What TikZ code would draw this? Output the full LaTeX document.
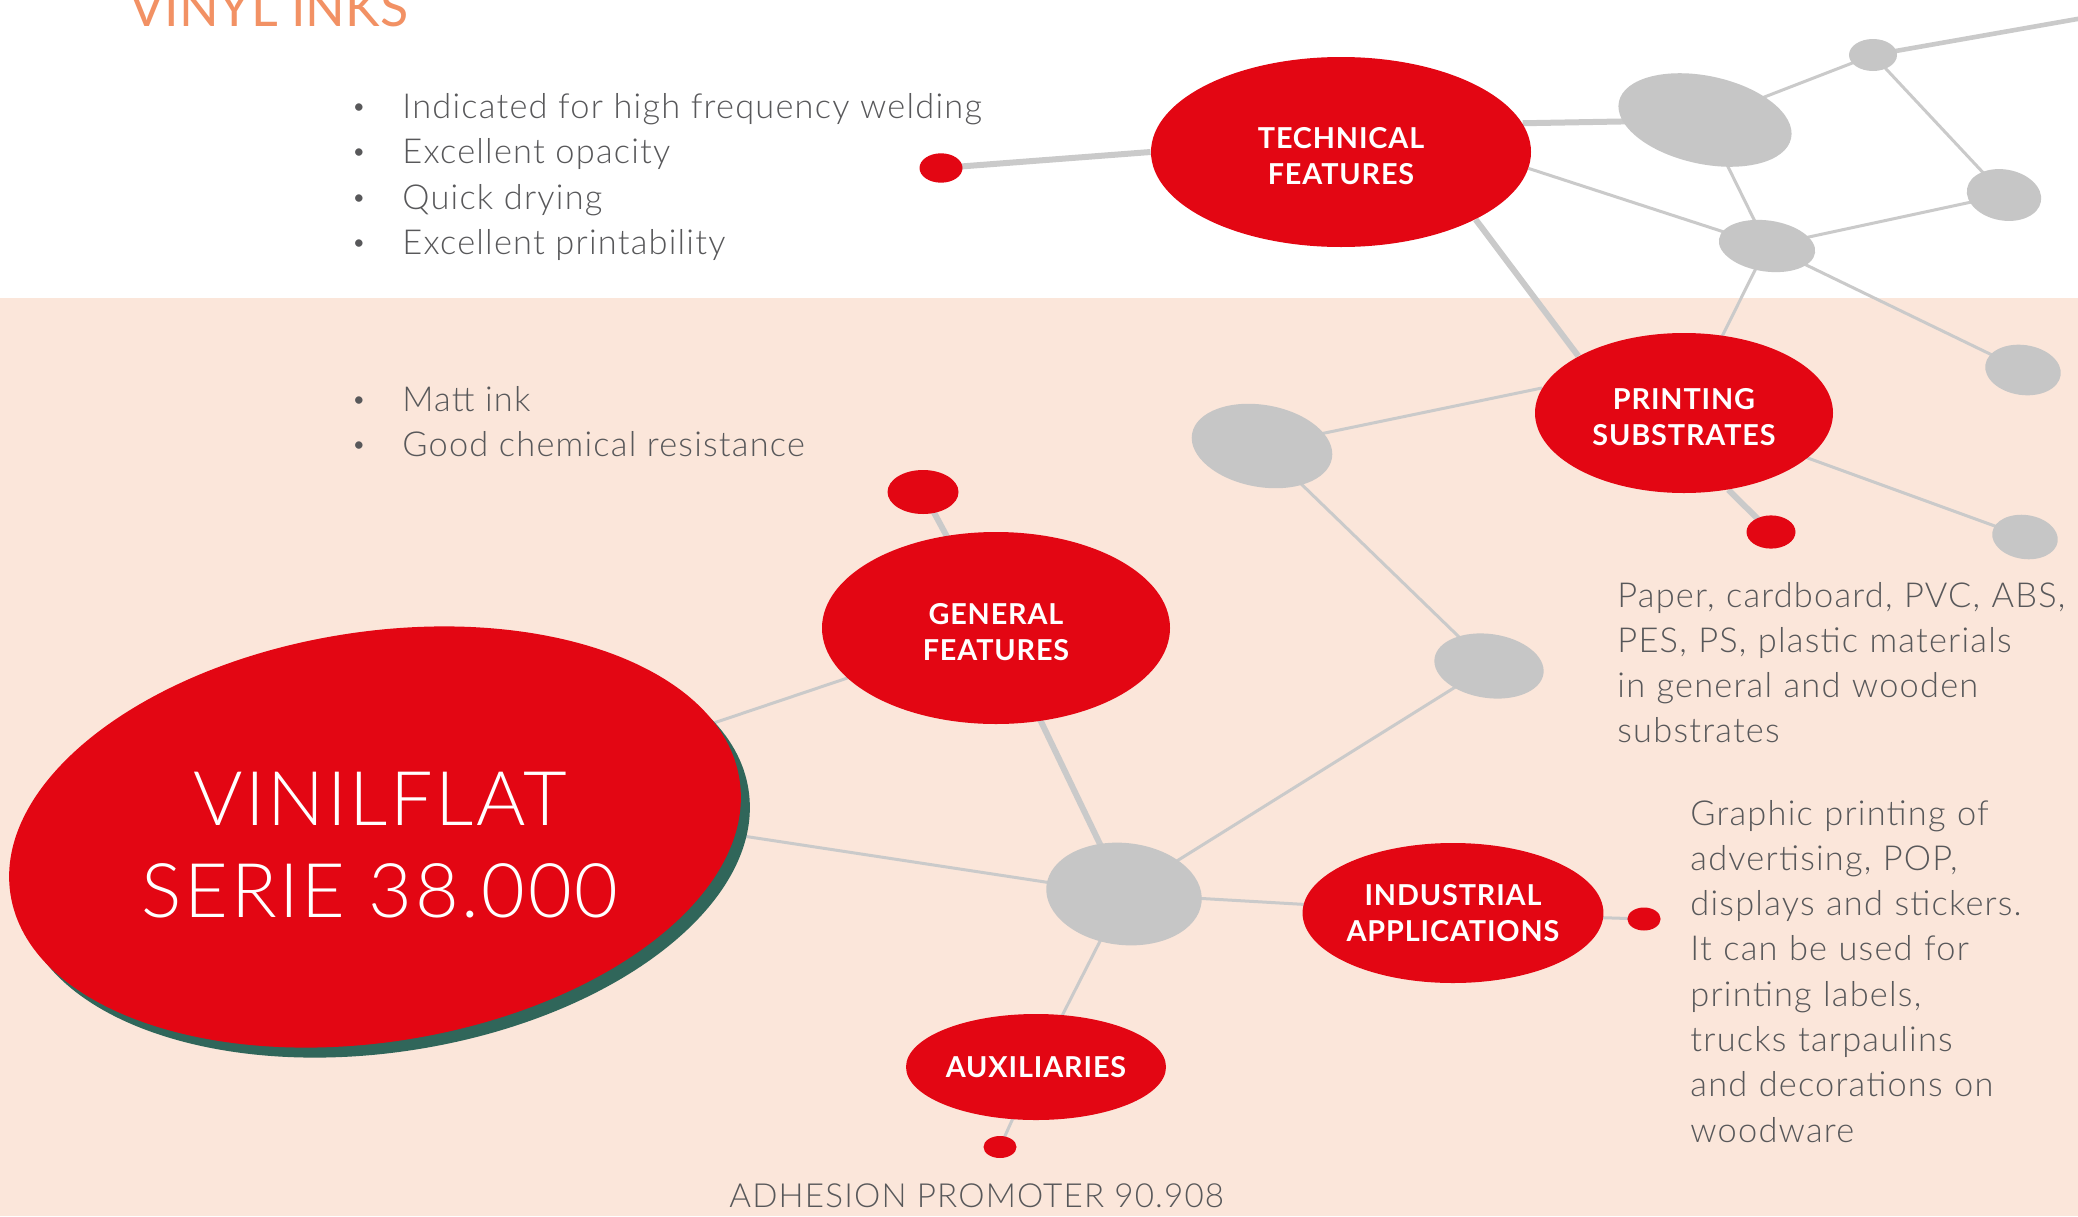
\documentclass[tikz,border=0pt]{standalone}
\usepackage{fontspec}
\setmainfont{Lato}
\newfontfamily\lightfont{Lato Light}[LetterSpace=3.5]
\newfontfamily\labelfont{Lato}[LetterSpace=3]
\usetikzlibrary{shapes.geometric, calc}

\definecolor{inkred}{RGB}{227,6,19}
\definecolor{blobgrey}{RGB}{198,198,198}
\definecolor{linkgrey}{RGB}{202,202,202}
\definecolor{peach}{RGB}{251,230,218}
\definecolor{copygrey}{RGB}{88,88,90}
\definecolor{titleorange}{RGB}{242,145,100}
\definecolor{shadowgreen}{RGB}{48,102,90}

\pgfdeclarelayer{paper}
\pgfdeclarelayer{links}
\pgfsetlayers{paper,links,main}

\newcommand{\lowstrut}{\rule{0pt}{15pt}}

\tikzset{
  axes/.style 2 args={minimum width=#1pt, minimum height=#2pt},
  bubble/.style={ellipse, fill=inkred, inner sep=0pt, text=white, align=center,
    font=\labelfont\bfseries\fontsize{14.4}{18}\selectfont},
  blob/.style={ellipse, fill=blobgrey, inner sep=0pt},
  redspot/.style={ellipse, fill=inkred, inner sep=0pt},
  link/.style={draw=linkgrey, line width=1.5pt},
  mid link/.style={draw=linkgrey, line width=2.3pt},
  heavy link/.style={draw=linkgrey, line width=3pt},
  bodytext/.style={text=copygrey, inner sep=0pt, anchor=base west,
    font=\lightfont\fontsize{17.2}{22.65}\selectfont},
  bulletmark/.style={text=copygrey, inner sep=0pt, anchor=base,
    font=\fontsize{10}{12}\selectfont},
}

\begin{document}
\begin{tikzpicture}[x=0.5pt, y=-0.5pt]
\useasboundingbox (0,0) rectangle (2078,1216);
\begin{pgfonlayer}{paper}
  \fill[white] (0,0) rectangle (2078,298);
  \fill[peach] (0,298) rectangle (2078,1216);
\end{pgfonlayer}

% heading
\node[anchor=base west, inner sep=0pt, text=titleorange,
  font=\fontsize{26}{30}\selectfont] (title) at (129,26) {VINYL INKS};

% bullet lists
\foreach \txt [count=\i] in {Indicated for high frequency welding, Excellent opacity, Quick drying, Excellent printability} {
  \node[bulletmark] (tdot\i) at (359, {113+45.5*(\i-1)}) {•};
  \node[bodytext] (tline\i) at (402, {118+45.5*(\i-1)}) {\txt};
}
\foreach \txt [count=\i] in {Matt ink, Good chemical resistance} {
  \node[bulletmark] (gdot\i) at (359, {406+45*(\i-1)}) {•};
  \node[bodytext] (gline\i) at (402, {411+45*(\i-1)}) {\txt};
}

% main product
\node[ellipse, fill=shadowgreen, inner sep=0pt, axes={369}{205}, rotate=9] (brandshadow) at (384,847) {};
\node[ellipse, fill=inkred, inner sep=0pt, axes={369}{205}, rotate=9] (brand) at (375,837) {};
\node[text=white, align=center, inner sep=0pt,
  font=\lightfont\fontsize{37.7}{46}\selectfont] (brandtext) at (380,845) {VINILFLAT\\SERIE 38.000};

% red bubbles
\node[bubble, axes={190}{95}] (tf) at (1341,152) {\lowstrut TECHNICAL\\FEATURES};
\node[bubble, axes={149}{80}] (ps) at (1684,413) {\lowstrut PRINTING\\SUBSTRATES};
\node[bubble, axes={174}{96}] (gf) at (996,628) {\lowstrut GENERAL\\FEATURES};
\node[bubble, axes={146}{70}] (ia) at (1453,913) {INDUSTRIAL\\APPLICATIONS};
\node[bubble, axes={130}{53}] (aux) at (1036,1067) {AUXILIARIES};

% small red ends
\node[redspot, axes={21.5}{14.7}] (tfpin) at (941,168) {};
\node[redspot, axes={35.5}{22}] (gfpin) at (923,492) {};
\node[redspot, axes={24.5}{16.6}] (pspin) at (1771,532) {};
\node[redspot, axes={16.6}{11.5}] (iapin) at (1644,919) {};
\node[redspot, axes={16.5}{11}] (auxpin) at (1000,1147) {};

% grey blobs
\node[blob, axes={88}{44}, rotate=-12] (g1) at (1705,120) {};
\node[blob, axes={24}{16}] (g2) at (1873,55) {};
\node[blob, axes={37.5}{25.5}, rotate=-10] (g3) at (2004,195) {};
\node[blob, axes={48.5}{25.5}, rotate=-8] (g4) at (1767,246) {};
\node[blob, axes={38}{25}, rotate=-8] (g5) at (2023,370) {};
\node[blob, axes={33}{22}, rotate=-8] (g6) at (2025,537) {};
\node[blob, axes={71}{41}, rotate=-10] (g7) at (1262,446) {};
\node[blob, axes={55}{32}, rotate=-8] (g8) at (1489,666) {};
\node[blob, axes={78}{51}, rotate=-6] (g9) at (1124,894) {};
\coordinate (offpage) at (2100,15);

% connectors
\begin{pgfonlayer}{links}
  \draw[heavy link] (tfpin.center) -- (tf.west);
  \draw[heavy link] (tf.9) -- (g1.center);
  \draw[link] (g1.center) -- (g2.center);
  \draw[mid link] (g2.center) -- (offpage);
  \draw[link] (g2.center) -- (g3.center);
  \draw[link] (g1.center) -- (g4.center);
  \draw[link] (tf.-5) -- (g4.center);
  \draw[link] (g4.center) -- (g3.center);
  \draw[link] (g4.center) -- (g5.center);
  \draw[link] (g4.center) -- (ps.center);
  \draw[heavy link] (tf.south east) -- (ps.north west);
  \draw[link] (g7.center) -- (ps.170);
  \draw[link] (ps.center) -- (g6.center);
  \draw[heavy link] (ps.-60) -- (pspin.center);
  \draw[link] (g7.center) -- (g8.center);
  \draw[link] (g8.center) -- (g9.center);
  \draw[heavy link] (gf.center) -- (g9.center);
  \draw[heavy link] (gf.center) -- (gfpin.center);
  \draw[link] (gf.center) -- (brand.center);
  \draw[link] ($(brand.center)+(0,-57)$) -- (g9.center);
  \draw[link] (g9.center) -- (ia.center);
  \draw[link] (ia.center) -- (iapin.center);
  \draw[link] (g9.center) -- (aux.center);
  \draw[link] (aux.center) -- (auxpin.center);
\end{pgfonlayer}

% descriptions
\node[bodytext, text width=280pt, align=left] (substrates) at (1617,607)
  {Paper, cardboard, PVC, ABS,\\ PES, PS, plastic materials\\ in general and wooden\\ substrates};
\node[bodytext, text width=220pt, align=left] (applications) at (1690,825)
  {Graphic printing of\\ advertising, POP,\\ displays and stickers.\\ It can be used for\\ printing labels,\\ trucks tarpaulins\\ and decorations on\\ woodware};
\node[bodytext, font=\lightfont\fontsize{16.6}{22.65}\selectfont] (promoter) at (729,1207) {ADHESION PROMOTER 90.908};
\end{tikzpicture}
\end{document}
